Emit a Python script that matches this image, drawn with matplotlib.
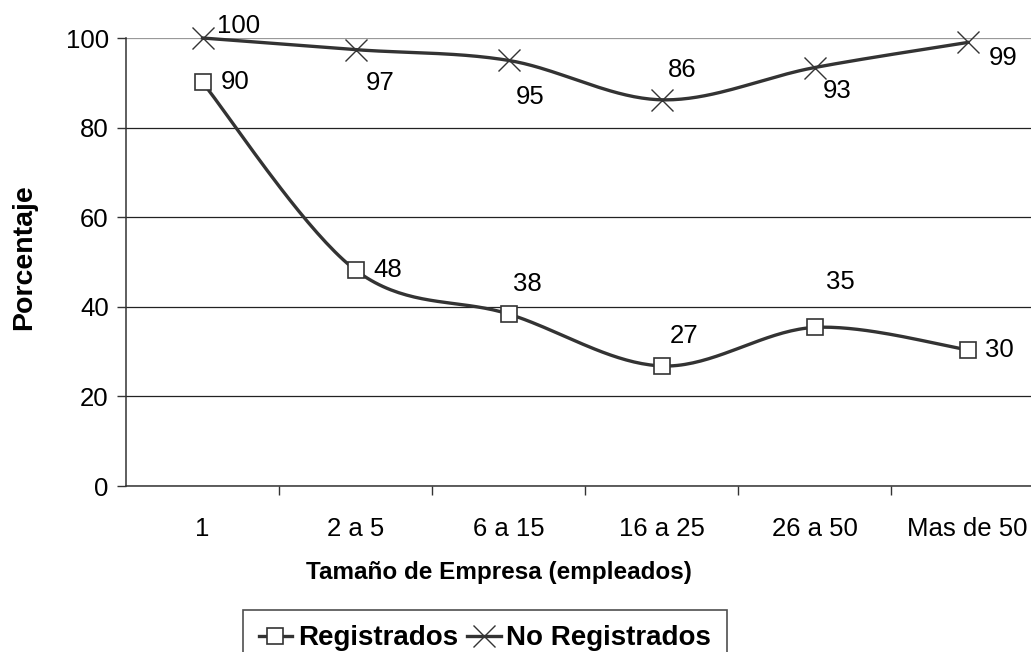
import numpy as np
import matplotlib
matplotlib.use("Agg")
import matplotlib.pyplot as plt
from matplotlib.lines import Line2D

plt.rcParams["font.family"] = ["Liberation Sans", "DejaVu Sans"]

CATEGORIES    = ["1", "2 a 5", "6 a 15", "16 a 25", "26 a 50", "Mas de 50"]
REGISTRADOS   = [90.1, 48.2, 38.4, 26.8, 35.4, 30.4]
NO_REGISTRADOS = [100.0, 97.4, 95.0, 86.2, 93.4, 99.0]

# label offsets in pixels (dx, dy) from each marker
REG_OFFS = [(33, 0), (32, 0), (19, 30), (23, 30), (26, 45), (32, 0)]
NOREG_OFFS = [(36, 12), (25, -33), (22, -37), (21, 30), (23, -23), (36, -16)]

LINE_COLOR = "#333333"


def smooth(x, y, n=40):
    # Catmull-Rom style bezier smoothing, like a spreadsheet "smoothed line"
    x = np.asarray(x, float)
    y = np.asarray(y, float)
    px = np.concatenate([[x[0]], x, [x[-1]]])
    py = np.concatenate([[y[0]], y, [y[-1]]])
    xs, ys = [], []
    t = np.linspace(0, 1, n)
    for i in range(1, len(px) - 2):
        p0 = np.array([px[i], py[i]])
        p3 = np.array([px[i + 1], py[i + 1]])
        p1 = p0 + (np.array([px[i + 1], py[i + 1]]) - np.array([px[i - 1], py[i - 1]])) / 6
        p2 = p3 - (np.array([px[i + 2], py[i + 2]]) - np.array([px[i], py[i]])) / 6
        b = ((1 - t) ** 3)[:, None] * p0 + (3 * (1 - t) ** 2 * t)[:, None] * p1 \
            + (3 * (1 - t) * t ** 2)[:, None] * p2 + (t ** 3)[:, None] * p3
        xs.extend(b[:, 0])
        ys.extend(b[:, 1])
    return xs, ys


fig = plt.figure(figsize=(10.31, 6.52), dpi=100)
ax = fig.add_axes([126 / 1031, 166 / 652, 918 / 1031, 448 / 652])

xpos = np.arange(len(CATEGORIES))

for vals, mk, ms, mew, offs in [
    (REGISTRADOS, "s", 12, 1.2, REG_OFFS),
    (NO_REGISTRADOS, "x", 16, 1.0, NOREG_OFFS),
]:
    sx, sy = smooth(xpos, vals)
    ax.plot(sx, sy, color=LINE_COLOR, lw=2.4, zorder=3, clip_on=False)
    ax.plot(xpos, vals, ls="none", marker=mk, ms=ms, mew=mew,
            mfc="white", mec=LINE_COLOR, zorder=4, clip_on=False)
    for x, v, (dx, dy) in zip(xpos, vals, offs):
        ax.annotate(f"{v:.0f}", (x, v), xytext=(dx, dy), textcoords="offset pixels",
                    ha="center", va="center", fontsize=18.5, color="black", zorder=5)

ax.set_xlim(-0.5, len(CATEGORIES) - 0.5)
ax.set_ylim(0, 100)
ax.set_yticks(np.arange(0, 101, 20))
ax.set_xticks(xpos)
ax.set_xticklabels(CATEGORIES)
ax.set_xticks(np.arange(0.5, len(CATEGORIES), 1), minor=True)
ax.tick_params(axis="x", which="major", length=0, pad=22, labelsize=18.5)
ax.tick_params(axis="x", which="minor", length=6.5, width=1, color=LINE_COLOR, direction="out")
ax.tick_params(axis="y", length=6.5, width=1, color=LINE_COLOR, pad=6, labelsize=18.5)

ax.yaxis.grid(True, color="#222222", lw=0.9)
ax.get_ygridlines()[-1].set_color("#999999")
ax.set_axisbelow(True)

for side in ("top", "right"):
    ax.spines[side].set_visible(False)
for side in ("left", "bottom"):
    ax.spines[side].set_color(LINE_COLOR)
    ax.spines[side].set_linewidth(1.1)

fig.text(499 / 1031, 1 - 573 / 652, "Tamaño de Empresa (empleados)", ha="center", va="center",
         fontsize=17.5, fontweight="bold")
fig.text(24 / 1031, 1 - 257 / 652, "Porcentaje", ha="center", va="center", rotation=90,
         fontsize=20.5, fontweight="bold")

handles = [
    Line2D([], [], color=LINE_COLOR, lw=2.4, marker="s", ms=12, mew=1.2, mfc="white", mec=LINE_COLOR),
    Line2D([], [], color=LINE_COLOR, lw=2.4, marker="x", ms=16, mew=1.0, mec=LINE_COLOR),
]
leg = fig.legend(handles, ["Registrados", "No Registrados"], loc="upper center",
                 bbox_to_anchor=(485 / 1031, 1 - 610 / 652), ncol=2, frameon=True, fancybox=False,
                 prop={"weight": "bold", "size": 20}, handlelength=1.2, handletextpad=0.2,
                 columnspacing=0.35, borderpad=0.55, borderaxespad=0)
leg.get_frame().set_edgecolor("#222222")
leg.get_frame().set_linewidth(1.2)

fig.savefig("out.png", dpi=100)
